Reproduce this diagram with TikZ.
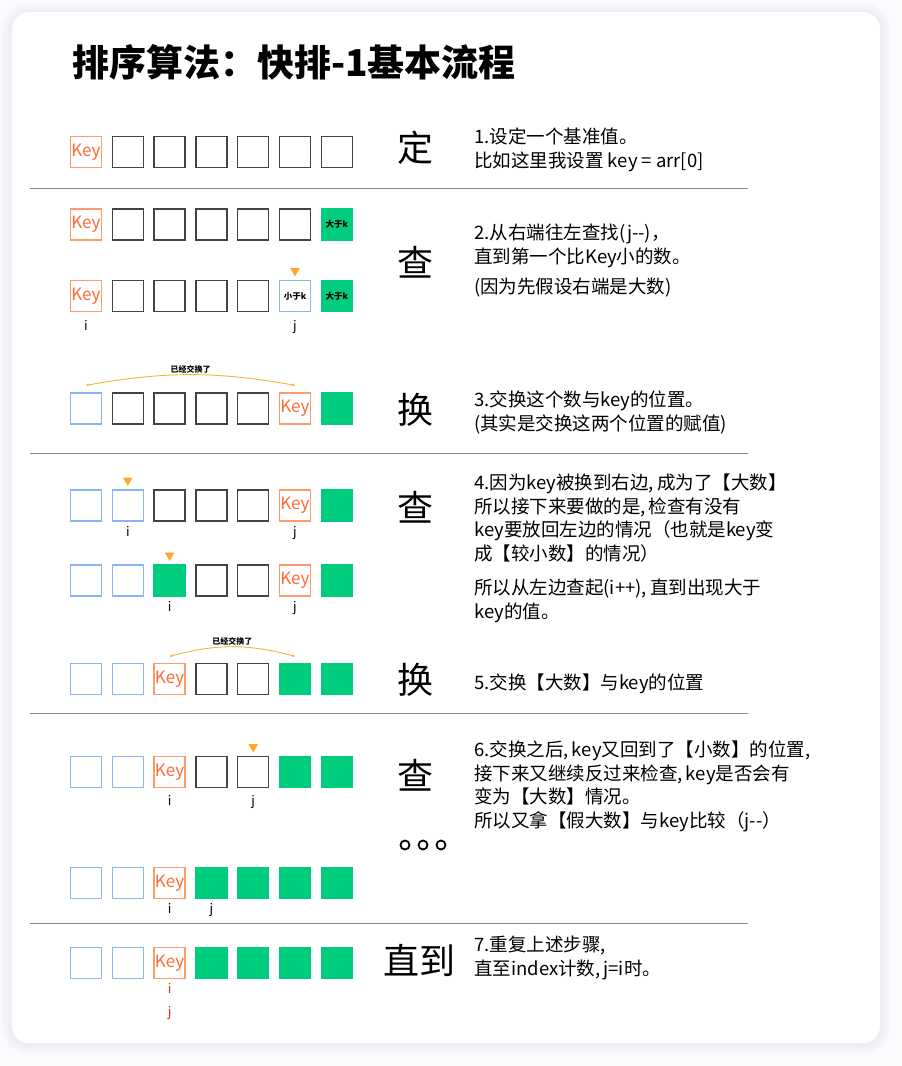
\documentclass[tikz,border=0pt]{standalone}
\usepackage{fontspec}
\setmainfont{Noto Sans CJK SC}
\usetikzlibrary{arrows.meta, positioning, shapes.geometric}
\definecolor{my_pagebg}{HTML}{FBFBFD}
\definecolor{my_shadow}{HTML}{E6E8F2}
\definecolor{my_keyline}{HTML}{FF9A6C}
\definecolor{my_keytext}{HTML}{FF6B35}
\definecolor{my_dark}{HTML}{444444}
\definecolor{my_blue}{HTML}{8AB4F8}
\definecolor{my_green}{HTML}{00CC7E}
\definecolor{my_pointer}{HTML}{FFA726}
\definecolor{my_arc}{HTML}{F7B531}
\definecolor{my_red}{HTML}{E0261B}
\definecolor{my_rule}{HTML}{8A8A8A}

\begin{document}
\begin{tikzpicture}[
    x=1pt, y=-1pt,
    cell/.style={minimum size=31pt, inner sep=0pt, line width=1.4pt,
        /utils/exec=\def\celltext{}},
    cellkey/.style={cell, draw=my_keyline, text=my_keytext,
        font=\fontsize{17}{17}\selectfont, /utils/exec=\def\celltext{Key}},
    celldark/.style={cell, draw=my_dark},
    cellblue/.style={cell, draw=my_blue},
    cellgreen/.style={cell, draw=my_green, fill=my_green},
    cellbig/.style={cellgreen, font=\bfseries\fontsize{8.5}{8.5}\selectfont,
        /utils/exec=\def\celltext{大于k}},
    cellsmall/.style={cellblue, font=\bfseries\fontsize{8.5}{8.5}\selectfont,
        /utils/exec=\def\celltext{小于k}},
    pointer/.style={regular polygon, regular polygon sides=3, shape border rotate=180,
        fill=my_pointer, inner sep=0pt, minimum size=11pt},
    idx/.style={font=\fontsize{13}{13}\selectfont, inner sep=0pt,
        text height=9.5pt, text depth=2.5pt},
    swaparc/.style={my_arc, line width=0.9pt,
        {Stealth[length=3pt, width=3pt]}-{Stealth[length=3pt, width=3pt]}},
    swaplabel/.style={text=black, font=\bfseries\fontsize{8}{8}\selectfont, inner sep=1pt},
    steptext/.style={anchor=north west, align=left, inner sep=0pt,
        font=\fontsize{18.5}{23.5}\selectfont},
    bigchar/.style={font=\fontsize{36}{36}\selectfont, inner sep=0pt},
    divider/.style={my_rule, line width=1pt}
]

% ---- Page and card ----
\useasboundingbox (0,0) rectangle (902,1066);
\fill[my_pagebg] (0,0) rectangle (902,1066);
\foreach \d in {10,7,4,2}
    \fill[my_shadow, opacity=0.22, rounded corners={17pt+\d pt}]
        ({12-\d},{13-\d}) rectangle ({880+\d},{1044+\d});
\fill[white, rounded corners=17pt] (12,12) rectangle (880,1043);

% ---- Title ----
\node[anchor=west, inner sep=0pt, font=\bfseries\fontsize{37}{37}\selectfont]
    (title) at (72,62) {排序算法：快排-1基本流程};

% ---- Rows of cells (column c centred at 44.2 + 41.8 c) ----
\foreach \s [count=\c] in {cellkey,celldark,celldark,celldark,celldark,celldark,celldark}
    \node[\s] (r1-\c) at ({44.2+41.8*\c}, 152) {\celltext};
\foreach \s [count=\c] in {cellkey,celldark,celldark,celldark,celldark,celldark,cellbig}
    \node[\s] (r2-\c) at ({44.2+41.8*\c}, 224.5) {\celltext};
\foreach \s [count=\c] in {cellkey,celldark,celldark,celldark,celldark,cellsmall,cellbig}
    \node[\s] (r3-\c) at ({44.2+41.8*\c}, 296) {\celltext};
\foreach \s [count=\c] in {cellblue,celldark,celldark,celldark,celldark,cellkey,cellgreen}
    \node[\s] (r4-\c) at ({44.2+41.8*\c}, 408.5) {\celltext};
\foreach \s [count=\c] in {cellblue,cellblue,celldark,celldark,celldark,cellkey,cellgreen}
    \node[\s] (r5-\c) at ({44.2+41.8*\c}, 505.5) {\celltext};
\foreach \s [count=\c] in {cellblue,cellblue,cellgreen,celldark,celldark,cellkey,cellgreen}
    \node[\s] (r6-\c) at ({44.2+41.8*\c}, 580.5) {\celltext};
\foreach \s [count=\c] in {cellblue,cellblue,cellkey,celldark,celldark,cellgreen,cellgreen}
    \node[\s] (r7-\c) at ({44.2+41.8*\c}, 679) {\celltext};
\foreach \s [count=\c] in {cellblue,cellblue,cellkey,celldark,celldark,cellgreen,cellgreen}
    \node[\s] (r8-\c) at ({44.2+41.8*\c}, 772) {\celltext};
\foreach \s [count=\c] in {cellblue,cellblue,cellkey,cellgreen,cellgreen,cellgreen,cellgreen}
    \node[\s] (r9-\c) at ({44.2+41.8*\c}, 883) {\celltext};
\foreach \s [count=\c] in {cellblue,cellblue,cellkey,cellgreen,cellgreen,cellgreen,cellgreen}
    \node[\s] (r10-\c) at ({44.2+41.8*\c}, 963) {\celltext};

% ---- Pointers ----
\node[pointer, above=3pt of r3-6] (p3) {};
\node[pointer, above=3pt of r5-2] (p5) {};
\node[pointer, above=3pt of r6-3] (p6) {};
\node[pointer, above=3pt of r8-5] (p8) {};

% ---- Index labels ----
\node[idx, below=9pt of r3-1] (i3) {i};
\node[idx, below=9pt of r3-6] (j3) {j};
\node[idx, below=5pt of r5-2] (i5) {i};
\node[idx, below=5pt of r5-6] (j5) {j};
\node[idx, below=5pt of r6-3] (i6) {i};
\node[idx, below=5pt of r6-6] (j6) {j};
\node[idx, below=8pt of r8-3] (i8) {i};
\node[idx, below=8pt of r8-5] (j8) {j};
\node[idx, below=5pt of r9-3] (i9) {i};
\node[idx, below=5pt of r9-4] (j9) {j};
\node[idx, my_red, below=5pt of r10-3] (i10) {i};
\node[idx, my_red, below=10pt of i10] (j10) {j};

% ---- Swap arcs ----
\draw[swaparc] ([yshift=7pt]r4-1.north) to[bend left=10]
    node[swaplabel, midway, above] (swap4) {已经交换了} ([yshift=7pt]r4-6.north);
\draw[swaparc] ([yshift=6.5pt]r7-3.north) to[bend left=15]
    node[swaplabel, midway, above] (swap7) {已经交换了} ([yshift=6.5pt]r7-6.north);

% ---- Dividers ----
\draw[divider] (30,188) -- (748,188);
\draw[divider] (30,453) -- (748,453);
\draw[divider] (30,713) -- (748,713);
\draw[divider] (30,923) -- (748,923);

% ---- Step characters ----
\node[bigchar] (c1) at (415,148) {定};
\node[bigchar] (c2) at (415,262) {查};
\node[bigchar] (c3) at (415,410) {换};
\node[bigchar] (c4) at (415,507) {查};
\node[bigchar] (c5) at (415,680) {换};
\node[bigchar] (c6) at (415,775) {查};
\node[bigchar] (c7) at (419,960) {直到};
\draw[line width=1.8pt] (405,845) circle (4.5pt);
\draw[line width=1.8pt] (423,845) circle (4.5pt);
\draw[line width=1.8pt] (441,845) circle (4.5pt);

% ---- Step descriptions ----
\node[steptext] (s1) at (474,128) {1.设定一个基准值。\\比如这里我设置 key = arr[0]};
\node[steptext] (s2) at (474,224) {2.从右端往左查找(j-{}-)，\\直到第一个比Key小的数。};
\node[steptext] (s2b) at (474,278) {(因为先假设右端是大数)};
\node[steptext] (s3) at (474,391) {3.交换这个数与key的位置。\\(其实是交换这两个位置的赋值)};
\node[steptext] (s4) at (474,474) {4.因为key被换到右边,\,成为了【大数】\\所以接下来要做的是,\,检查有没有\\key要放回左边的情况（也就是key变\\成【较小数】的情况）};
\node[steptext] (s4b) at (474,579) {所以从左边查起(i++),\,直到出现大于\\key的值。};
\node[steptext] (s5) at (474,674) {5.交换【大数】与key的位置};
\node[steptext] (s6) at (474,741) {6.交换之后,\,key又回到了【小数】的位置,\\接下来又继续反过来检查,\,key是否会有\\变为【大数】情况。\\所以又拿【假大数】与key比较（j-{}-）};
\node[steptext] (s7) at (474,936) {7.重复上述步骤,\\直至index计数,\,j=i时。};

\end{tikzpicture}
\end{document}
